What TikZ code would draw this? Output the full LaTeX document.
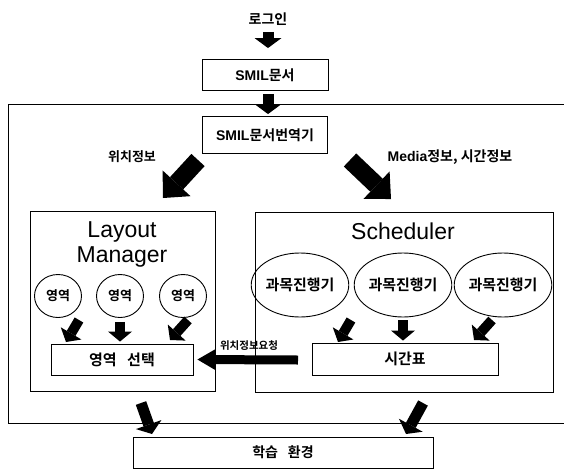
\documentclass[tikz,border=0pt]{standalone}
\usepackage{fontspec}
\setmainfont{Liberation Sans}
\newfontfamily\kr{Noto Sans CJK KR Bold}
\newfontfamily\latb{Liberation Sans Bold}
\usetikzlibrary{arrows.meta,shapes.geometric}

\tikzset{
  box/.style={draw, line width=0.9pt, inner sep=0pt, font=\kr\fontsize{14}{16}\selectfont},
  panel/.style={draw, line width=0.9pt, inner sep=0pt},
  bubble/.style={draw, ellipse, line width=0.9pt, inner sep=0pt},
  tag/.style={font=\kr\fontsize{13}{15}\selectfont},
  title/.style={font=\fontsize{23}{26}\selectfont, align=center},
  bigarrow/.style={line width=18pt, -{Triangle[width=38pt 0, length=20pt 0, line width=0pt]}},
  midarrow/.style={line width=11pt, -{Triangle[width=27pt 0, length=10pt 0, line width=0pt]}},
  smallarrow/.style={line width=10pt, -{Triangle[width=24pt 0, length=10pt 0, line width=0pt]}},
  thinarrow/.style={line width=9pt, -{Triangle[width=21pt 0, length=18pt 0, line width=0pt]}},
}

\begin{document}
\begin{tikzpicture}[x=1pt, y=-1pt]
  \useasboundingbox (0,0) rectangle (564,471);

  % top of the chain
  \node[tag, font=\kr\fontsize{14}{16}\selectfont] (LOG) at (268,19) {로그인};
  \node[box, minimum width=126pt, minimum height=31pt] (SM) at (265,75) {{\latb SMIL}문서};
  \draw[midarrow, shorten <=3pt, shorten >=11pt] (LOG) -- (LOG |- SM.north);

  % outer frame, open to the right
  \draw[line width=0.9pt] (570,104) -- (8,104) -- (8,423) -- (570,423);

  % translator
  \node[box, minimum width=125pt, minimum height=37pt] (TR) at (265,135) {{\latb SMIL}문서번역기};
  \draw[midarrow, shorten <=3pt, shorten >=2pt] (SM.south -| LOG) -- (TR.north -| LOG);

  \node[tag] (POS) at (132,157) {위치정보};
  \node[tag, font=\kr\fontsize{14}{16}\selectfont] (MED) at (450,157) {{\latb Media}정보, 시간정보};

  % big arrows down to the two panels
  \coordinate (PA) at (198,160);
  \coordinate (PB) at (163,198);
  \coordinate (MA) at (350,160);
  \coordinate (MB) at (391,199);
  \draw[bigarrow] (PA) -- (PB);
  \draw[bigarrow] (MA) -- (MB);

  % layout manager
  \node[panel, minimum width=185pt, minimum height=180pt] (LM) at (122.5,301) {};
  \node[title] (LMT) at (122,244) {Layout\\[-1pt]Manager};
  \foreach \i/\x in {1/58, 2/120, 3/183}
    \node[bubble, minimum width=47pt, minimum height=43pt,
          font=\kr\fontsize{13}{15}\selectfont] (R\i) at (\x,296) {영역};
  \node[box, minimum width=142pt, minimum height=31pt,
        font=\kr\fontsize{15}{17}\selectfont] (SEL) at (122,359.5) {영역\hspace{0.7em}선택};

  \coordinate (L1) at (79,320);
  \coordinate (L2) at (66,342);
  \coordinate (L3) at (188,320);
  \coordinate (L4) at (170,340);
  \draw[smallarrow] (L1) -- (L2);
  \draw[smallarrow, shorten <=4pt, shorten >=2pt] (R2) -- (R2 |- SEL.north);
  \draw[smallarrow] (L3) -- (L4);

  % scheduler
  \node[panel, minimum width=298pt, minimum height=180pt] (SC) at (404,302) {};
  \node[title] (SCT) at (403,231) {Scheduler};
  \foreach \i/\x in {1/300, 2/403, 3/503}
    \node[bubble, minimum width=88pt, minimum height=64pt,
          font=\kr\fontsize{15}{17}\selectfont] (C\i) at (\x,285) {과목진행기};
  \node[box, minimum width=186pt, minimum height=32pt,
        font=\kr\fontsize{15}{17}\selectfont] (TT) at (405,359) {시간표};

  \coordinate (S1) at (351,320);
  \coordinate (S2) at (338,342);
  \coordinate (S3) at (492,320);
  \coordinate (S4) at (474,340);
  \draw[smallarrow] (S1) -- (S2);
  \draw[smallarrow, shorten <=3pt, shorten >=2pt] (C2) -- (C2 |- TT.north);
  \draw[smallarrow] (S3) -- (S4);

  % request from scheduler to layout
  \coordinate (RQ) at (298,360);
  \draw[thinarrow, shorten >=4pt] (RQ) -- (SEL.east);
  \node[tag, font=\kr\fontsize{10.5}{12}\selectfont] (RQT) at (249,346) {위치정보요청};

  % result
  \node[box, minimum width=300pt, minimum height=31pt] (ST) at (283,452.5) {학습\hspace{0.7em}환경};
  \coordinate (B1) at (141,403);
  \coordinate (B2) at (152,434);
  \coordinate (B3) at (423,403);
  \coordinate (B4) at (406,434);
  \draw[midarrow] (B1) -- (B2);
  \draw[midarrow] (B3) -- (B4);
\end{tikzpicture}
\end{document}
